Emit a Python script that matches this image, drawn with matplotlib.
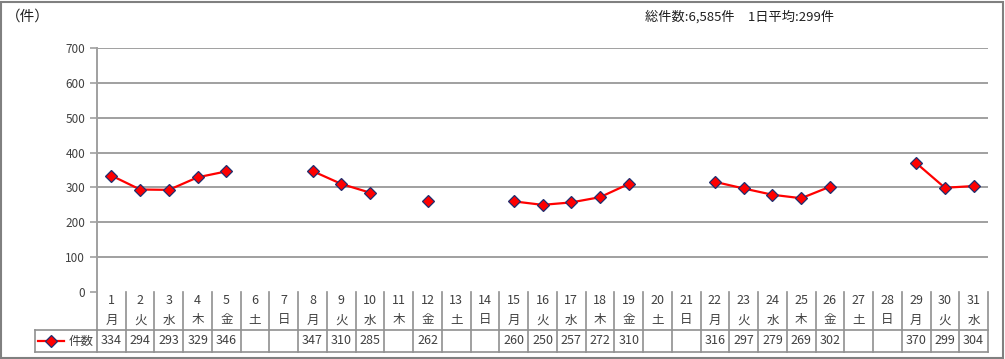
"""
Daily count line chart with data table (monthly report style)
"""

import numpy as np
import matplotlib.pyplot as plt
from matplotlib.transforms import blended_transform_factory

plt.rcParams['font.family'] = ['Noto Sans CJK JP', 'DejaVu Sans']

# data
days = list(range(1, 32))
weekdays = ['月', '火', '水', '木', '金', '土', '日'] * 5
weekdays = weekdays[:31]
counts = [334, 294, 293, 329, 346, None, None,
          347, 310, 285, None, 262, None, None,
          260, 250, 257, 272, 310, None, None,
          316, 297, 279, 269, 302, None, None,
          370, 299, 304]
series_label = '件数'
unit_label = '（件）'
summary_text = '総件数:6,585件　1日平均:299件'
y_ticks = [0, 100, 200, 300, 400, 500, 600, 700]

W, H = 1005, 359
fig = plt.figure(figsize=(W / 100, H / 100), dpi=100)

# outer frame
fig.patches.append(plt.Rectangle((1 / W, 1 / H), 1002 / W, 356 / H, transform=fig.transFigure,
                                 fill=False, edgecolor='#808080', linewidth=1.5))

# plot area
left, right, top, bottom = 97, 988, 48, 292
ax = fig.add_axes([left / W, (H - bottom) / H, (right - left) / W, (bottom - top) / H])

grid_col = '#a0a0a0'
text_col = '#404040'
y = np.array([np.nan if v is None else v for v in counts], dtype=float)

ax.plot(days, y, color='#ff0000', linewidth=1.6, marker='D', markersize=6.5,
        markerfacecolor='#ff0000', markeredgecolor='#1f2f6f', markeredgewidth=0.9, zorder=3)

ax.set_xlim(0.5, 31.5)
ax.set_ylim(0, 700)
ax.set_yticks(y_ticks)
ax.set_xticks([])
ax.tick_params(axis='y', colors=grid_col, labelcolor=text_col, labelsize=8.5, length=5, width=1.2)
for tick in ax.get_yticks():
    if tick > 0:
        ax.axhline(tick, color=grid_col, linewidth=1.4, zorder=1)
for side in ['top', 'right', 'bottom']:
    ax.spines[side].set_visible(False)
ax.spines['left'].set_color(grid_col)
ax.spines['left'].set_linewidth(1.4)

# data table below the plot area
trans = blended_transform_factory(ax.transData, ax.transAxes)
ph = bottom - top
row1 = -(330 - bottom) / ph
row2 = -(352 - bottom) / ph
legend_left = 0.5 - (left - 35) / ((right - left) / 31)
line_kw = dict(color='#909090', linewidth=1.2, transform=trans, clip_on=False)

ax.plot([0.5, 31.5], [row1, row1], **line_kw)
ax.plot([legend_left, 31.5], [row2, row2], **line_kw)
ax.plot([legend_left, 0.5], [row1, row1], **line_kw)
ax.plot([legend_left, legend_left], [row1, row2], **line_kw)
for i in range(32):
    ax.plot([i + 0.5, i + 0.5], [0, row2], **line_kw)

txt_kw = dict(transform=trans, ha='center', va='center', fontsize=9, color=text_col)
for d, wd, v in zip(days, weekdays, counts):
    ax.text(d, -(300 - bottom) / ph, str(d), **txt_kw)
    ax.text(d, -(320 - bottom) / ph, wd, **txt_kw)
    if v is not None:
        ax.text(d, -(341 - bottom) / ph, str(v), **txt_kw)

# legend key inside the table
ly = -(341 - bottom) / ph
lx0 = legend_left + 3 / 28.7
ax.plot([lx0, lx0 + 26 / 28.7], [ly, ly], color='#ff0000', linewidth=1.6,
        transform=trans, clip_on=False)
ax.plot([lx0 + 13 / 28.7], [ly], marker='D', markersize=6, color='#ff0000',
        markeredgecolor='#1f2f6f', markeredgewidth=0.9, transform=trans, clip_on=False)
ax.text(lx0 + 31 / 28.7, ly, series_label, transform=trans, ha='left', va='center',
        fontsize=9, color=text_col)

# header texts
fig.text(6 / W, 1 - 17 / H, unit_label, ha='left', va='center', fontsize=10.5, color='#202020')
fig.text(645 / W, 1 - 17 / H, summary_text, ha='left', va='center', fontsize=9.5, color='#202020')

fig.savefig('out.png', dpi=100)
